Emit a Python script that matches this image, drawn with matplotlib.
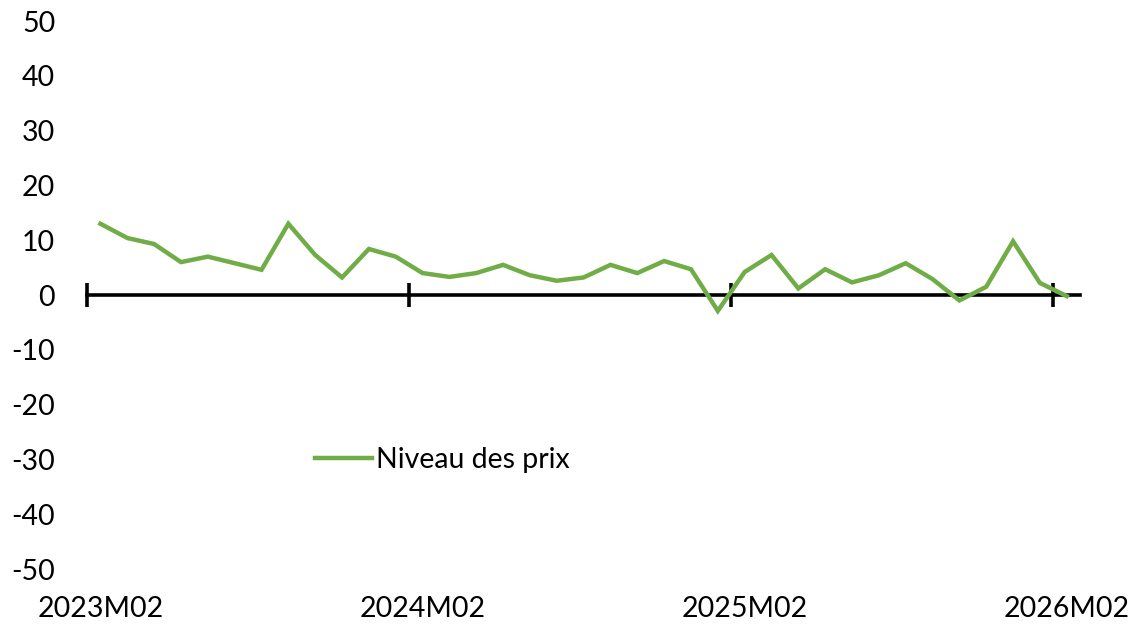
import matplotlib
matplotlib.use("Agg")
import matplotlib.pyplot as plt

plt.rcParams["font.family"] = ["Lato", "DejaVu Sans"]
plt.rcParams["axes.unicode_minus"] = False

# monthly values, 2023M02 .. 2026M02
prix = [13.0, 10.4, 9.3, 6.0, 7.0, 5.8, 4.6, 13.0, 7.3, 3.2, 8.4, 7.0,
        4.0, 3.3, 4.0, 5.5, 3.6, 2.6, 3.2, 5.5, 4.0, 6.2, 4.7, -2.9,
        4.2, 7.3, 1.2, 4.7, 2.3, 3.6, 5.8, 2.9, -1.0, 1.5, 9.8, 2.2, -0.2]
label_pos = [0, 12, 24, 36]
labels = ["2023M02", "2024M02", "2025M02", "2026M02"]
yticks = [-50, -40, -30, -20, -10, 0, 10, 20, 30, 40, 50]

fs = 20.5

fig = plt.figure(figsize=(11.35, 6.25), dpi=100)
ax = fig.add_axes([0.0767, 0.0896, 0.875, 0.8768])

x = list(range(len(prix)))
ax.plot(x, prix, color="#70AD47", lw=3.2, label="Niveau des prix",
        solid_joinstyle="miter")

ax.set_xlim(-0.5, len(prix) - 0.5)
ax.set_ylim(-50, 50)
ax.set_yticks(yticks)
ax.tick_params(axis="y", length=0, pad=23, labelsize=fs)

for s in ["top", "right", "left"]:
    ax.spines[s].set_visible(False)
ax.spines["bottom"].set_position(("data", 0))
ax.spines["bottom"].set_linewidth(2.6)
ax.spines["bottom"].set_zorder(1)
ax.set_xticks([p - 0.5 for p in label_pos])
ax.set_xticklabels([])
ax.tick_params(axis="x", direction="inout", length=17, width=2.6)

for p, lab in zip(label_pos, labels):
    ax.text(p, -0.05, lab, transform=ax.get_xaxis_transform(),
            ha="center", va="top", fontsize=fs)

ax.legend(loc="center left", bbox_to_anchor=(0.2296, 0.199), frameon=False,
          fontsize=fs, borderpad=0, handlelength=2.0, handletextpad=0.15,
          borderaxespad=0)

fig.savefig("out.png", dpi=100)
